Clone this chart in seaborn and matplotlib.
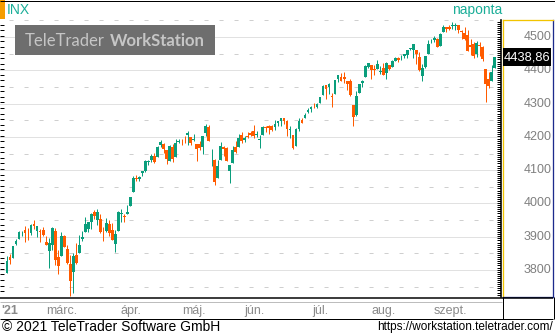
import numpy as np
import pandas as pd
import matplotlib
matplotlib.use("Agg")
import matplotlib.pyplot as plt
import seaborn as sns
from matplotlib.patches import Rectangle
from matplotlib.lines import Line2D

# ---------------- data (S&P 500 "INX", daily, 2021-02-02 .. 2021-09-23) ----------------
holidays = ["2021-02-15", "2021-04-02", "2021-05-31", "2021-07-05", "2021-09-06"]
dates = pd.bdate_range("2021-02-02", "2021-09-23", freq="C", holidays=holidays)

open_ = [3791.84,3840.27,3836.66,3878.30,3892.59,3910.49,3920.78,3916.40,3911.65,3939.61,3918.50,3915.86,3921.16,3885.55,3857.07,3873.71,3915.80,3839.66,
         3842.51,3903.64,3863.99,3818.53,3793.58,3844.39,3851.69,3891.99,3915.54,3924.52,3942.96,3973.59,3949.57,3953.50,3913.14,3916.48,3937.60,3919.93,3879.34,3917.12,3969.31,3963.34,3967.25,
         3992.78,4034.44,4075.57,4074.29,4089.95,4096.11,4124.71,4130.10,4141.58,4139.76,4174.14,4179.80,4159.18,4128.42,4170.46,4138.78,4185.03,4188.25,4185.14,4206.14,4198.10,
         4191.98,4179.04,4177.06,4169.14,4210.34,4228.29,4150.34,4130.55,4074.99,4129.58,4169.92,4165.94,4098.45,4121.97,4168.61,4170.16,4205.94,4191.59,4201.94,4210.77,
         4216.52,4206.82,4191.43,4206.05,4229.34,4233.81,4232.99,4228.56,4242.90,4248.31,4255.28,4248.87,4220.37,4204.78,4173.40,4224.61,4249.27,4256.97,4274.45,4284.90,4293.21,4290.65,
         4300.73,4326.60,4356.46,4351.01,4321.07,4329.38,4372.41,4381.07,4380.11,4369.02,4367.43,4296.40,4265.11,4331.13,4361.27,4381.20,4409.58,4416.38,4402.95,4403.59,4395.12,
         4406.86,4392.74,4415.95,4408.86,4429.07,4437.77,4435.79,4442.18,4446.08,4464.84,4461.65,4462.12,4440.94,4382.44,4410.56,4450.29,4484.40,4490.45,4493.75,4474.10,4513.76,4529.75,
         4528.80,4534.48,4532.42,4535.38,4518.09,4513.02,4506.92,4474.81,4479.33,4447.49,4477.09,4469.74,4402.95,4374.45,4367.43,4406.75]
high = [3843.09,3847.51,3872.42,3894.56,3915.77,3918.35,3931.50,3925.99,3937.23,3950.43,3933.61,3921.98,3930.41,3902.92,3895.98,3928.65,3925.02,3861.08,
        3914.50,3906.41,3874.47,3843.67,3851.69,3881.06,3903.76,3917.35,3960.27,3944.99,3970.08,3981.04,3983.87,3969.62,3930.12,3955.31,3949.13,3942.08,3919.54,3978.19,3981.83,3968.01,3994.41,
        4020.63,4083.42,4086.23,4083.13,4098.19,4129.48,4131.76,4148.00,4151.69,4173.49,4191.31,4180.81,4159.18,4175.02,4179.57,4194.17,4194.19,4193.35,4201.53,4218.78,4198.10,
        4209.39,4179.04,4187.72,4202.70,4238.04,4236.39,4162.04,4134.73,4131.58,4183.13,4171.92,4169.15,4116.93,4172.80,4188.72,4209.52,4213.42,4202.61,4213.38,4218.36,
        4234.12,4217.37,4204.39,4233.45,4232.34,4236.74,4237.09,4249.74,4248.38,4255.59,4257.16,4251.89,4232.29,4204.78,4226.24,4255.84,4256.60,4271.28,4286.12,4292.14,4300.52,4302.43,
        4320.66,4355.43,4356.46,4361.88,4330.88,4371.60,4386.68,4392.37,4393.68,4369.02,4375.09,4296.40,4336.84,4359.70,4369.87,4415.18,4422.73,4416.38,4415.47,4429.97,4412.25,
        4422.18,4423.79,4416.17,4429.76,4440.82,4439.39,4445.21,4449.44,4461.77,4468.37,4480.26,4462.12,4454.32,4418.61,4444.35,4489.88,4492.81,4501.71,4495.90,4513.33,4537.36,4531.39,
        4537.11,4545.85,4541.45,4535.38,4521.79,4529.90,4520.47,4492.99,4485.68,4486.87,4485.87,4471.52,4402.95,4394.87,4416.75,4440.00]
low = [3791.84,3816.68,3836.66,3874.93,3892.59,3902.64,3884.94,3890.39,3905.78,3923.85,3900.43,3885.03,3903.07,3874.71,3805.59,3859.60,3814.04,3789.54,
       3842.51,3868.57,3818.86,3723.34,3730.19,3819.25,3851.69,3885.73,3915.54,3915.21,3923.54,3953.44,3935.74,3910.86,3886.75,3914.16,3901.57,3889.07,3853.50,3917.12,3943.25,3944.35,3966.98,
       3992.78,4034.44,4068.14,4068.31,4082.54,4095.51,4114.82,4124.43,4120.87,4139.76,4170.75,4150.47,4118.38,4126.35,4123.69,4138.78,4182.36,4176.22,4181.78,4176.81,4174.85,
       4188.03,4128.59,4160.94,4147.33,4201.64,4188.13,4111.53,4056.88,4074.99,4129.58,4142.69,4125.99,4061.41,4121.97,4151.72,4170.16,4182.52,4184.11,4197.78,4203.57,
       4197.59,4198.27,4167.93,4206.05,4215.66,4208.41,4218.74,4220.34,4232.25,4234.07,4238.35,4202.45,4196.05,4164.40,4173.40,4217.27,4241.43,4256.97,4271.16,4274.67,4287.04,4287.96,
       4300.73,4326.60,4314.37,4329.79,4289.37,4329.38,4364.03,4366.92,4362.36,4340.70,4322.53,4233.13,4262.05,4331.13,4350.06,4381.20,4405.45,4372.51,4387.01,4403.59,4389.65,
       4384.81,4373.00,4400.23,4408.86,4429.07,4424.74,4430.03,4436.42,4435.96,4460.82,4437.66,4417.83,4397.59,4367.73,4406.80,4450.29,4482.28,4485.66,4468.99,4474.10,4513.76,4515.80,
       4522.02,4524.66,4521.65,4513.00,4493.95,4492.07,4457.66,4445.70,4435.46,4438.37,4443.80,4427.76,4305.91,4347.96,4367.43,4406.75]
close = [3826.31,3830.17,3871.74,3886.83,3915.59,3911.23,3909.88,3916.38,3934.83,3932.59,3931.33,3913.97,3906.71,3876.50,3881.37,3925.43,3829.34,3811.15,
         3901.82,3870.29,3819.72,3768.47,3841.94,3821.35,3875.44,3898.81,3939.34,3943.34,3968.94,3962.71,3974.12,3915.46,3913.10,3940.59,3910.52,3889.14,3909.52,3974.54,3971.09,3958.55,3972.89,
         4019.87,4077.91,4073.94,4079.95,4097.17,4128.80,4127.99,4141.59,4124.66,4170.42,4185.47,4163.26,4134.94,4173.42,4134.98,4180.17,4187.62,4186.72,4183.18,4211.47,4181.17,
         4192.66,4164.66,4167.59,4201.62,4232.60,4188.43,4152.10,4063.04,4112.50,4173.85,4163.29,4127.83,4115.68,4159.12,4155.86,4197.05,4188.13,4195.99,4200.88,4204.11,
         4202.04,4208.12,4192.85,4229.89,4226.52,4227.26,4219.55,4239.18,4247.44,4255.15,4246.59,4223.70,4221.86,4166.45,4224.79,4246.44,4241.84,4266.49,4280.70,4290.61,4291.80,4297.50,
         4319.94,4352.34,4343.54,4358.13,4320.82,4369.55,4384.63,4369.21,4374.30,4360.03,4327.16,4258.49,4323.06,4358.69,4367.48,4411.79,4422.30,4401.46,4400.64,4419.15,4395.26,
         4387.16,4423.15,4402.66,4429.10,4436.52,4432.35,4436.75,4447.70,4460.83,4468.00,4479.71,4448.08,4400.27,4405.80,4441.67,4479.53,4486.23,4496.19,4470.00,4509.37,4528.79,4522.68,
         4524.09,4536.95,4535.43,4520.03,4514.07,4493.28,4458.58,4468.73,4443.05,4480.70,4473.75,4432.99,4357.73,4354.19,4395.64,4438.86]

month_labels = ["'21", "márc.", "ápr.", "máj.", "jún.", "júl.", "aug.", "szept."]
y_ticks = [3800, 3900, 4000, 4100, 4200, 4300, 4400, 4500]
last_price = 4438.86
last_label = "4438,86"
symbol = "INX"
period = "naponta"

# ---------------- styling ----------------
W, H = 555, 336
sns.set_theme(style="white")
plt.rcParams['font.family'] = ['Liberation Sans', 'DejaVu Sans']
plt.rcParams['lines.scale_dashes'] = False

UP = "#0a9e7c"
DOWN = "#ff5b00"
TEAL = "#1aae98"
PX = 0.72  # one pixel in points

fig = plt.figure(figsize=(W / 100, H / 100), dpi=100)
fig.patch.set_facecolor("white")


def rect(x0, y0, x1, y1):
    return [x0 / W, 1 - y1 / H, (x1 - x0) / W, (y1 - y0) / H]


def fline(x0, y0, x1, y1, color="black", lw=1.0):
    fig.add_artist(Line2D([x0 / W, x1 / W], [1 - y0 / H, 1 - y1 / H],
                          transform=fig.transFigure, color=color, lw=lw * PX,
                          solid_capstyle="butt"))


YLIM = (3719, 4551)
XLIM = (-7 / 3.01, (501 - 7) / 3.01)

df = pd.DataFrame({"date": dates, "open": open_, "high": high, "low": low, "close": close})
df["i"] = np.arange(len(df))
df["up"] = df["close"] >= df["open"]
colors = np.where(df["up"], UP, DOWN)

# ---------------- main chart ----------------
ax = fig.add_axes(rect(0, 20, 501, 297))
ax.set_facecolor("white")
ax.set_xlim(*XLIM)
ax.set_ylim(*YLIM)
ax.set_xticks([])
ax.set_yticks([])
for s in ["left", "top", "bottom"]:
    ax.spines[s].set_visible(False)
ax.spines["right"].set_color("black")
ax.spines["right"].set_linewidth(1.6 * PX)

# grid: dotted at hundreds, dashed at fifties
for v in range(3800, 4600, 100):
    ax.axhline(v, color="#c4c4c4", lw=PX, ls=(0, (PX, PX)), zorder=0)
for v in range(3750, 4600, 100):
    ax.axhline(v, color="#cfcfcf", lw=PX, ls=(4.3, (2.9, 7.9)), zorder=0)

# edge ticks
yt = ax.get_yaxis_transform()
ax.hlines(np.arange(3720, 4551, 100 / 6), 0, 4 / 501, transform=yt, color="black", lw=PX)
ax.hlines(np.arange(3720, 4551, 6.25), 1 - 4 / 501, 1, transform=yt, color="black", lw=PX)

# candles
body = np.maximum(np.abs(df["close"] - df["open"]), 2.0)
bottom = np.minimum(df["open"], df["close"])
ax.vlines(df["i"], df["low"], df["high"], colors=colors, lw=1.0 * PX, zorder=2)
ax.bar(df["i"], body, bottom=bottom, width=0.92, color=colors, linewidth=0, zorder=3)

# ---------------- right value panel ----------------
rp = fig.add_axes(rect(502.5, 20, 553, 297))
rp.set_facecolor("white")
rp.set_xlim(0, 1)
rp.set_ylim(*YLIM)
rp.set_xticks([])
rp.set_yticks([])
rp.spines["left"].set_color("#f2c400")
rp.spines["top"].set_color("#f2c400")
rp.spines["right"].set_color("#1c2a8c")
rp.spines["bottom"].set_color("#1c2a8c")
for s in rp.spines.values():
    s.set_linewidth(1.3 * PX)
rt = rp.get_yaxis_transform()
for v in y_ticks:
    rp.text(0.965, v, str(v), transform=rt, ha="right", va="center",
            fontsize=9, color="#808080", zorder=2)
tag_h = 18 / 0.3329
rp.add_patch(Rectangle((0.01, last_price - tag_h / 2), 0.955, tag_h, transform=rt,
                       facecolor="black", edgecolor="none", zorder=5))
rp.text(0.49, last_price, last_label, transform=rt, ha="center", va="center",
        fontsize=9.3, color="white", zorder=6)

# ---------------- x axis strip ----------------
xa = fig.add_axes(rect(0, 298, 502, 318))
xa.set_xlim(*XLIM)
xa.set_ylim(0, 1)
xa.axis("off")
month_start = df.groupby(df["date"].dt.to_period("M"))["i"].min().values
for k, (idx, lab) in enumerate(zip(month_start, month_labels)):
    if k == 0:
        xa.text(1 / 502, 0.2, lab, transform=xa.transAxes, ha="left", va="baseline",
                fontsize=9, color="#8a8a8a", fontweight="bold")
    else:
        xa.text(idx, 0.2, lab, ha="center", va="baseline", fontsize=9, color="#8a8a8a")

# frame lines
fline(0, 0.5, 555, 0.5, "black", 1)
fline(0, 297.5, 553, 297.5, "black", 1.5)
fline(0, 301.5, 502, 301.5, "#bdbdbd", 1)
fline(0, 318.5, 553, 318.5, "black", 1)
fline(502.5, 297, 502.5, 319, "black", 1)
fline(553.5, 297, 553.5, 319, "black", 1)

# ---------------- header / logo / footer ----------------
fig.add_artist(Rectangle((0, 1 - 19 / H), 5 / W, 19 / H, transform=fig.transFigure,
                         facecolor="#f59d00", edgecolor="none"))
fig.text(7 / W, 1 - 10 / H, symbol, fontsize=10, color=TEAL, ha="left", va="center")
fig.text(477 / W, 1 - 10 / H, period, fontsize=10, color=TEAL, ha="center", va="center")

fig.add_artist(Rectangle((15 / W, 1 - 55 / H), 200 / W, 30 / H, transform=fig.transFigure,
                         facecolor="#6e6e6e", edgecolor="none", zorder=4))
fig.text(25 / W, 1 - 40.5 / H, "TeleTrader", fontsize=12, color="#c6c6c6",
         ha="left", va="center", family=["Lato", "DejaVu Sans"], zorder=5)
fig.text(205 / W, 1 - 40.5 / H, "WorkStation", fontsize=12, color="#c6c6c6",
         ha="right", va="center", fontweight="bold", family=["Lato", "DejaVu Sans"], zorder=5)

fig.text(2 / W, 1 - 327 / H, "© 2021 TeleTrader Software GmbH", fontsize=10,
         color="black", ha="left", va="center")
fig.text(553 / W, 1 - 327 / H, "https://workstation.teletrader.com/", fontsize=8.5,
         color="black", ha="right", va="center")

fig.savefig("out.png", dpi=100)
